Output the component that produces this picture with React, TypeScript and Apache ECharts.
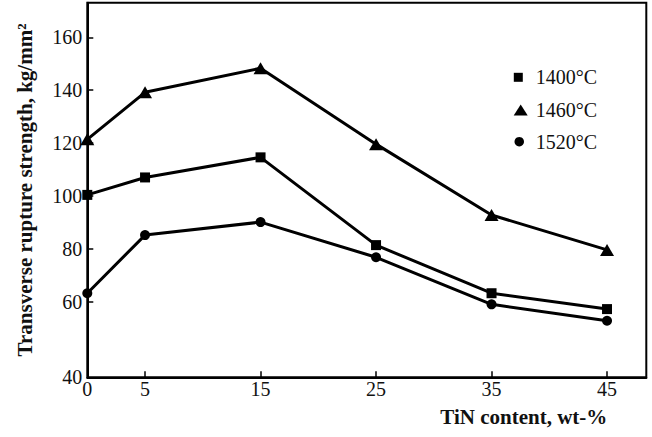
import React, { useEffect, useRef } from "react";
import * as echarts from "echarts";

const tinContent = [0, 5, 15, 25, 35, 45];
const strength1400 = [100.4, 107.0, 114.6, 81.4, 63.2, 57.2];
const strength1460 = [121.4, 139.2, 148.3, 119.6, 92.8, 79.6];
const strength1520 = [63.2, 85.2, 90.1, 76.8, 59.0, 52.8];
const seriesNames = ["1400°C", "1460°C", "1520°C"];
const xTickValues = [0, 5, 15, 25, 35, 45];
const yTickValues = [60, 80, 100, 120, 140, 160];
const yBottomLabel = "40";

const FONT = "'Liberation Serif', 'Times New Roman', serif";
const Y_MIN = 31.4;
const Y_MAX = 173.1;
const X_MAX = 48.4;

export default function App() {
  const ref = useRef<HTMLDivElement>(null);
  useEffect(() => {
    if (!ref.current) return;
    document.body.style.margin = "0";
    const chart = echarts.init(ref.current, null, { renderer: "svg" });
    const pair = (vals: number[]) => tinContent.map((x, i) => [x, vals[i]]);
    const seriesData = [strength1400, strength1460, strength1520];
    const symbols = ["rect", "triangle", "circle"];
    const symbolSizes: any[] = [10, [14, 12], 10];
    const legendCfg = [
      { icon: "rect", w: 9, h: 9, left: 513.8, top: 67.3, pad: 8 },
      { icon: "triangle", w: 14, h: 11, left: 513.7, top: 100, pad: 3 },
      { icon: "circle", w: 9.5, h: 9.5, left: 514.5, top: 131.7, pad: 6.7 },
    ];
    chart.setOption({
      animation: false,
      backgroundColor: "#fff",
      grid: {
        left: 87.3,
        right: 5.7,
        top: 2.7,
        bottom: 59.7,
        show: true,
        borderColor: "#000",
        borderWidth: 2,
      },
      legend: legendCfg.map((c, i) => ({
        data: [{ name: seriesNames[i], icon: c.icon }],
        left: c.left,
        top: c.top,
        padding: 0,
        itemWidth: c.w,
        itemHeight: c.h,
        selectedMode: false,
        itemStyle: { color: "#000" },
        textStyle: {
          fontFamily: FONT,
          fontSize: 20,
          lineHeight: 20,
          color: "#111",
          padding: [0, 0, 0, c.pad],
        },
      })),
      xAxis: {
        type: "value",
        min: 0,
        max: X_MAX,
        name: "TiN content, wt-%",
        nameLocation: "end",
        nameGap: -39,
        nameTextStyle: {
          fontFamily: FONT,
          fontSize: 21,
          fontWeight: "bold",
          color: "#111",
          align: "right",
          verticalAlign: "top",
          padding: [29, 0, 0, 0],
        },
        axisLine: { show: true, lineStyle: { color: "#000", width: 2 } },
        axisTick: {
          show: true,
          inside: true,
          length: 6,
          customValues: xTickValues,
          lineStyle: { color: "#000", width: 1.5 },
        },
        axisLabel: {
          customValues: xTickValues,
          margin: 2,
          fontFamily: FONT,
          fontSize: 20,
          color: "#111",
        },
        splitLine: { show: false },
      },
      yAxis: {
        type: "value",
        min: Y_MIN,
        max: Y_MAX,
        name: "Transverse rupture strength, kg/mm²",
        nameLocation: "middle",
        nameGap: 52,
        nameTextStyle: {
          fontFamily: FONT,
          fontSize: 21,
          fontWeight: "bold",
          color: "#111",
        },
        axisLine: { show: true, lineStyle: { color: "#000", width: 2 } },
        axisTick: {
          show: true,
          inside: true,
          length: 6,
          customValues: yTickValues,
          lineStyle: { color: "#000", width: 1.5 },
        },
        axisLabel: {
          customValues: [Y_MIN, ...yTickValues],
          formatter: (v: number) => (v === Y_MIN ? yBottomLabel : String(v)),
          margin: 5,
          fontFamily: FONT,
          fontSize: 20,
          color: "#111",
        },
        splitLine: { show: false },
      },
      series: seriesData.map((vals, i) => ({
        name: seriesNames[i],
        type: "line",
        data: pair(vals),
        symbol: symbols[i],
        symbolSize: symbolSizes[i],
        showSymbol: true,
        lineStyle: { color: "#000", width: 3 },
        itemStyle: { color: "#000" },
        z: 3,
      })),
    });
    return () => chart.dispose();
  }, []);
  return <div ref={ref} style={{ width: 652, height: 437 }} />;
}
